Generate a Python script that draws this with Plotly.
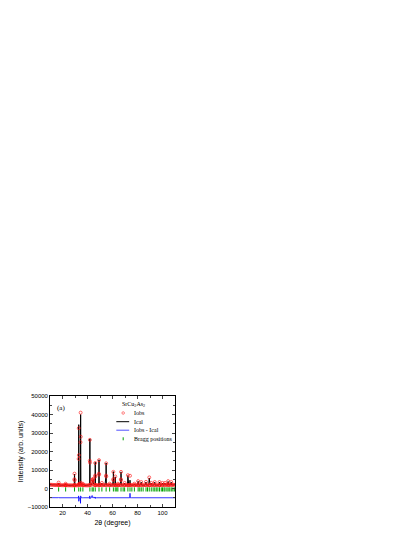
import plotly.graph_objects as go

# 2theta grid of the pattern (degree)
tth = [10, 11, 12, 13, 14, 15, 16, 16.7, 16.9, 17.1,
       18, 19, 20, 21, 22, 22.3, 22.5, 22.7, 23, 24,
       25, 26, 27, 28, 29, 29.4, 29.5, 29.6, 29.7, 29.8,
       30, 31, 32, 32.8, 32.9, 33.0, 33.1, 33.2, 33.5, 34.0,
       34.3, 34.4, 34.5, 34.6, 34.7, 35, 36, 36.3, 36.5, 37,
       38, 39, 40, 41, 41.7, 41.8, 41.9, 42.0, 42.1, 43,
       43.5, 43.7, 44.0, 44.4, 44.6, 44.9, 45.5, 46, 46.1, 46.2,
       46.3, 46.4, 47, 48, 49, 49.1, 49.2, 49.3, 49.4, 50,
       51, 51.5, 52, 53, 54, 54.8, 54.9, 55.0, 55.1, 56,
       57, 57.7, 58, 59, 60, 60.6, 60.7, 60.8, 61, 62,
       62.2, 62.4, 63, 64, 64.3, 64.6, 65, 66, 66.7, 66.8,
       66.9, 67.1, 68, 69, 69.7, 70, 71, 72, 72.3, 72.5,
       73, 73.8, 74.0, 74.2, 75, 76, 77, 77.5, 78, 79,
       80, 80.5, 80.8, 81, 82, 83, 83.3, 84, 85, 86,
       86.8, 87.1, 88, 89, 89.4, 89.7, 90, 91, 91.3, 92,
       93, 93.8, 94.1, 95, 96, 97, 97.6, 97.9, 98, 99,
       100, 100.3, 101, 102, 102.3, 103, 104, 104.5, 104.8, 105,
       106, 107, 107.3, 108, 109, 110]

# observed intensity
i_obs = [2100, 2000, 1950, 1900, 1900, 1850, 1850, 1900, 3200, 1900,
         1800, 1800, 1800, 1750, 1750, 1800, 2600, 1800, 1750, 1750,
         1700, 1700, 1700, 1700, 1700, 1800, 5000, 8000, 4500, 1800,
         1700, 1700, 1700, 1900, 16000, 32600, 18000, 2500, 2000, 1900,
         2500, 25000, 41000, 28000, 3000, 1900, 1800, 2600, 1800, 1800,
         1700, 1700, 1700, 1700, 1900, 15000, 26300, 14000, 2000, 1800,
         3500, 4800, 4000, 4600, 5200, 2500, 1800, 1800, 7000, 13800,
         6500, 1900, 1800, 1800, 1800, 8000, 15300, 7500, 1900, 1800,
         1800, 3000, 1800, 1800, 1800, 7000, 13600, 6500, 1900, 1800,
         1800, 2600, 1800, 1800, 1800, 5000, 9000, 4500, 1800, 1800,
         6500, 1800, 1800, 1800, 2600, 1800, 1800, 1800, 5000, 9000,
         4500, 1800, 1800, 1800, 3000, 1800, 1800, 1800, 7200, 1800,
         1800, 1900, 6900, 1900, 1800, 1800, 1800, 2600, 1800, 1800,
         1800, 4000, 1800, 1800, 1800, 3500, 1800, 1800, 1800, 1800,
         3600, 1800, 1800, 1800, 6000, 1800, 1800, 3000, 1800, 1800,
         1800, 3500, 1800, 1800, 1800, 1800, 3500, 1800, 1800, 1800,
         3000, 1800, 1800, 3000, 1900, 1900, 1900, 4000, 1900, 1900,
         1900, 3500, 1900, 1900, 2000, 2000]

# calculated intensity
i_cal = [2050, 2000, 1950, 1900, 1880, 1850, 1850, 1880, 3000, 1880,
         1800, 1800, 1780, 1750, 1750, 1780, 2500, 1780, 1750, 1750,
         1700, 1700, 1700, 1700, 1700, 1780, 4800, 7700, 4600, 1780,
         1700, 1700, 1700, 1900, 15000, 34500, 19000, 2600, 2000, 1900,
         2600, 28000, 40000, 29500, 3200, 1900, 1800, 2500, 1800, 1800,
         1700, 1700, 1700, 1700, 1900, 14000, 26800, 13500, 2100, 1800,
         3000, 3600, 3900, 4300, 4800, 2500, 1800, 1800, 6700, 14200,
         6300, 1900, 1800, 1800, 1800, 7800, 15500, 7300, 1900, 1800,
         1800, 2900, 1800, 1800, 1800, 6900, 13800, 6300, 1900, 1800,
         1800, 2500, 1800, 1800, 1800, 4900, 9100, 4400, 1800, 1800,
         6300, 1800, 1800, 1800, 2500, 1800, 1800, 1800, 4900, 9000,
         4400, 1800, 1800, 1800, 2900, 1800, 1800, 1800, 7000, 1800,
         1800, 1900, 4500, 1900, 1800, 1800, 1800, 2500, 1800, 1800,
         1800, 3900, 1800, 1800, 1800, 3400, 1800, 1800, 1800, 1800,
         3500, 1800, 1800, 1800, 5700, 1800, 1800, 2900, 1800, 1800,
         1800, 3400, 1800, 1800, 1800, 1800, 3400, 1800, 1800, 1800,
         2900, 1800, 1800, 2900, 1900, 1900, 1900, 3800, 1900, 1900,
         1900, 3400, 1900, 1900, 2000, 2000]

diff_offset = -5000
bragg_y = -500

bragg_pos = [16.9, 22.5, 29.6, 33.0, 34.5, 36.3, 41.9, 43.7, 44.6, 46.2,
             49.2, 51.5, 54.9, 57.7, 60.7, 62.2, 63.4, 64.3, 66.8, 68.5,
             69.7, 72.3, 74.0, 75.5, 77.5, 80.5, 81.8, 83.0, 84.5, 86.8,
             88.0, 89.4, 91.0, 92.5, 93.8, 95.0, 96.3, 97.6, 99.0, 100.0,
             101.2, 102.0, 103.5, 104.5, 105.8, 107.0, 108.3, 109.5]

assert len(tth) == len(i_obs) == len(i_cal)
i_diff = [o - c + diff_offset for o, c in zip(i_obs, i_cal)]

fig = go.Figure()

fig.add_trace(go.Scatter(x=tth, y=i_cal, mode='lines',
                         line=dict(color='black', width=1), showlegend=False))
fig.add_trace(go.Scatter(x=tth, y=i_obs, mode='markers',
                         marker=dict(symbol='circle-open', size=3, color='rgba(255,20,20,0.8)',
                                     line=dict(width=0.8)), showlegend=False))
fig.add_trace(go.Scatter(x=tth, y=i_diff, mode='lines',
                         line=dict(color='#0000ff', width=0.8), showlegend=False))
fig.add_trace(go.Scatter(x=bragg_pos, y=[bragg_y] * len(bragg_pos), mode='markers',
                         marker=dict(symbol='line-ns', size=3, color='#00a000',
                                     line=dict(width=1, color='#00a000')), showlegend=False))

# plot box in page pixels (page body has an 8px margin)
BOX_L, BOX_T, BOX_W, BOX_H = 44, 396, 131, 111

# legend drawn by hand (plotly legend rows are too tall at this size)
serif = 'Liberation Serif'
def px_x(p):
    return (p - BOX_L) / BOX_W

def px_y(p):
    return (BOX_T + BOX_H - p) / BOX_H

leg_rows = [('Iobs', 413), ('Ical', 421.7), ('Iobs - Ical', 430.2), ('Bragg positions', 438.8)]
for label, yy in leg_rows:
    fig.add_annotation(x=px_x(129.5), y=px_y(yy), xref='paper', yref='paper', text=label,
                       showarrow=False, xanchor='left', yanchor='middle',
                       font=dict(family=serif, size=6, color='black'))

fig.add_annotation(x=px_x(131), y=px_y(404.3), xref='paper', yref='paper',
                   text='SrCu<sub>2</sub>As<sub>2</sub>', showarrow=False,
                   xanchor='center', yanchor='middle',
                   font=dict(family=serif, size=6, color='black'))
fig.add_annotation(x=px_x(56), y=px_y(408), xref='paper', yref='paper', text='(a)',
                   showarrow=False, xanchor='center', yanchor='middle',
                   font=dict(family=serif, size=7, color='black'))

fig.add_shape(type='circle', xref='paper', yref='paper',
              x0=px_x(119.4), x1=px_x(122), y0=px_y(414.3), y1=px_y(411.7),
              line=dict(color='#ff6060', width=0.8))
fig.add_shape(type='line', xref='paper', yref='paper',
              x0=px_x(113.5), x1=px_x(127), y0=px_y(421.7), y1=px_y(421.7),
              line=dict(color='black', width=1))
fig.add_shape(type='line', xref='paper', yref='paper',
              x0=px_x(113.5), x1=px_x(127), y0=px_y(430.2), y1=px_y(430.2),
              line=dict(color='#5050ff', width=1))
fig.add_shape(type='line', xref='paper', yref='paper',
              x0=px_x(120.7), x1=px_x(120.7), y0=px_y(437.3), y1=px_y(440.3),
              line=dict(color='#00a000', width=1))

tickfont = dict(family='Liberation Sans', size=6, color='black')
fig.update_xaxes(range=[10, 110], dtick=20, tick0=0, ticks='inside', ticklen=3,
                 showline=True, linecolor='black', linewidth=0.8, mirror='ticks',
                 showgrid=False, zeroline=False, tickfont=tickfont,
                 minor=dict(ticks='inside', ticklen=2, dtick=10, tick0=0),
                 title=dict(text='2θ (degree)', standoff=5,
                            font=dict(family='Liberation Sans', size=7, color='black')))
fig.update_yaxes(range=[-10000, 50000], dtick=10000, ticks='inside', ticklen=3,
                 tickformat='d', showline=True, linecolor='black', linewidth=0.8,
                 mirror='ticks', showgrid=False, zeroline=False, tickfont=tickfont,
                 minor=dict(ticks='inside', ticklen=2, dtick=5000),
                 title=dict(text='Intensity (arb. units)', standoff=3,
                            font=dict(family='Liberation Sans', size=7, color='black')))

fig.update_layout(width=415, height=537,
                  margin=dict(l=BOX_L - 8, r=415 - (BOX_L - 8) - BOX_W,
                              t=BOX_T - 8, b=537 - (BOX_T - 8) - BOX_H),
                  paper_bgcolor='white', plot_bgcolor='white', showlegend=False)

fig.write_html("out.html")
